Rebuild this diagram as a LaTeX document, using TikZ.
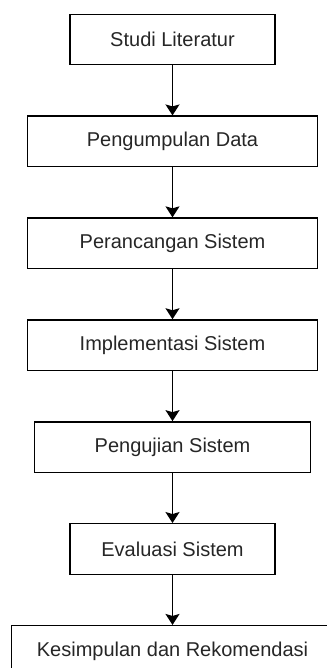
\documentclass[tikz,border=0pt]{standalone}
\usepackage{fontspec}
\setmainfont{Liberation Sans}
\usetikzlibrary{arrows.meta,positioning}

\begin{document}
\begin{tikzpicture}[x=1pt, y=1pt,
	every node/.style = {align=center, text=black!85,
		font=\fontsize{20}{24}\selectfont},
	Box/.style = {draw, line width=1.4pt, minimum height=50.5pt, minimum width=#1},
	Line/.style = {-{Stealth[length=11pt,width=14pt,inset=2pt]}, line width=1.4pt},
	node distance = 50pt
]
\useasboundingbox (0,0) rectangle (326,-668);
\node[Box=205pt] (studi) at (172.5,-39.5) {Studi Literatur};
\node[Box=290pt, below=of studi]   (data)    {Pengumpulan Data};
\node[Box=290pt, below=of data]    (rancang) {Perancangan Sistem};
\node[Box=290pt, below=of rancang] (impl)    {Implementasi Sistem};
\node[Box=276pt, below=of impl]    (uji)     {Pengujian Sistem};
\node[Box=205pt, below=of uji]     (eval)    {Evaluasi Sistem};
\node[Box=322pt, below=of eval]    (simpul)  {Kesimpulan dan Rekomendasi};

\draw[Line] (studi)   -- (data);
\draw[Line] (data)    -- (rancang);
\draw[Line] (rancang) -- (impl);
\draw[Line] (impl)    -- (uji);
\draw[Line] (uji)     -- (eval);
\draw[Line] (eval)    -- (simpul);
\end{tikzpicture}
\end{document}
